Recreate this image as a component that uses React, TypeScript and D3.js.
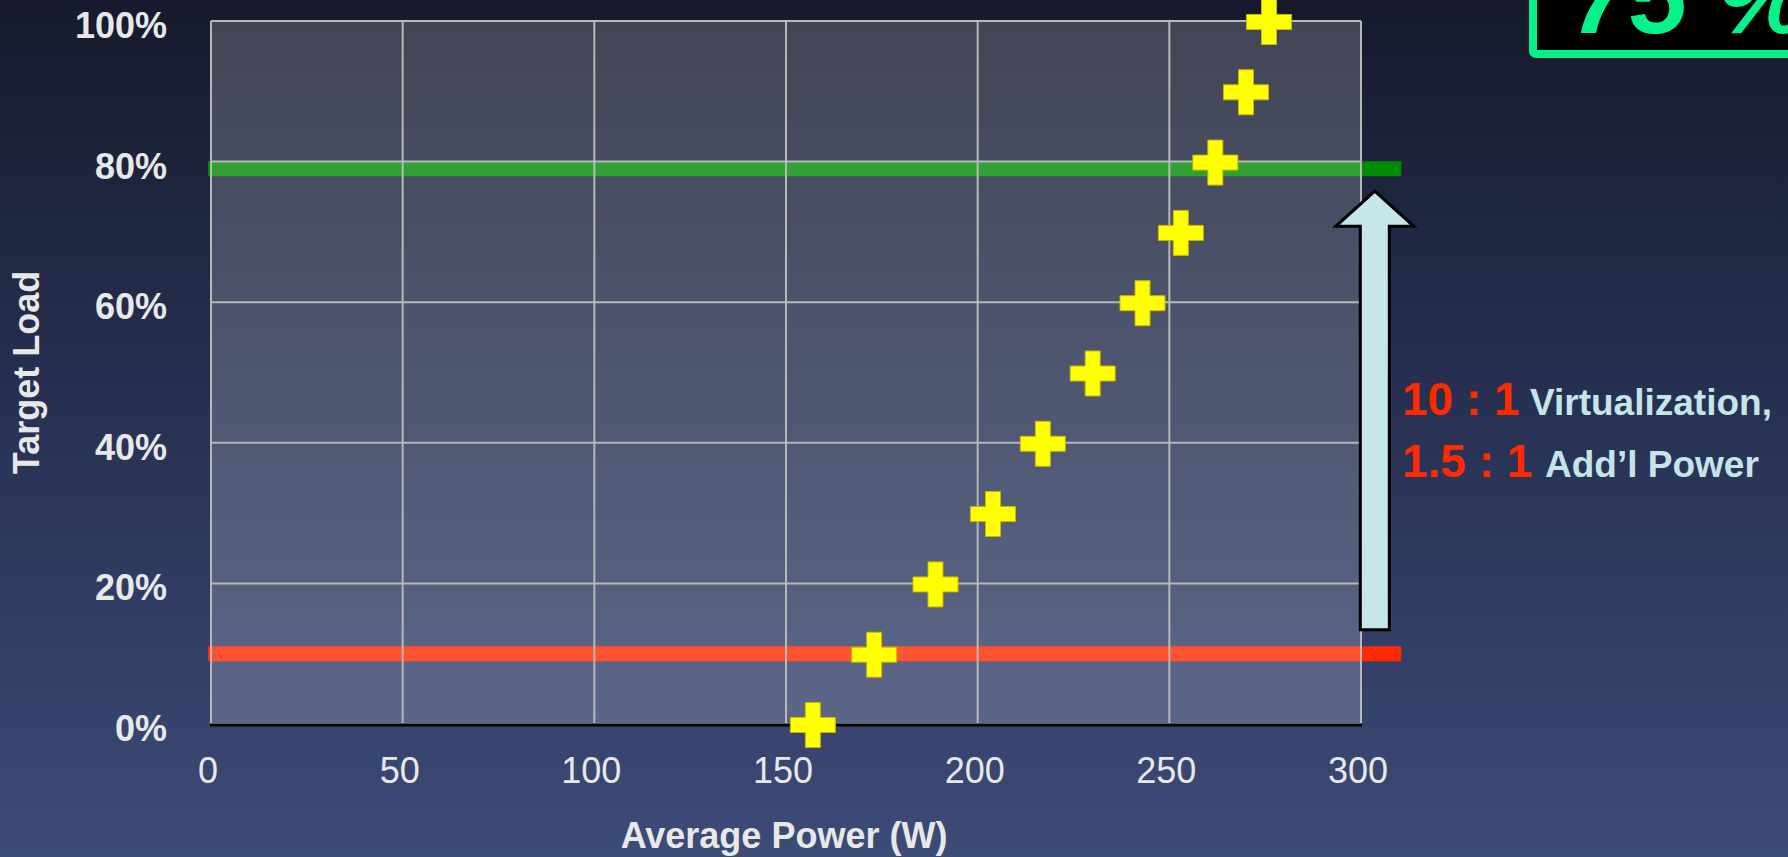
import React from "react";
import * as d3 from "d3";

const W = 1788;
const H = 857;

// data
const loadLevels = [0, 10, 20, 30, 40, 50, 60, 70, 80, 90, 100];
const avgPower = [157, 173, 189, 204, 217, 230, 243, 253, 262, 270, 276];
const xTicks = [0, 50, 100, 150, 200, 250, 300];
const yTicks = [0, 20, 40, 60, 80, 100];
const refLineValues = [10, 79];
const refLineColors = ["#ff2a00", "#008c00"];
const refLineExtent = [-0.8, 310.5];
const highlightText = "75 %";

const M = { left: 211, right: 1361, top: 21, bottom: 724 };
const FONT = "'Liberation Sans', Arial, Helvetica, sans-serif";

export default function App() {
  const x = d3.scaleLinear().domain([0, 300]).range([M.left, M.right]);
  const y = d3.scaleLinear().domain([0, 100]).range([M.bottom, M.top]);
  const cross = d3.symbol(d3.symbolCross, 1125)();

  const arrowX = x(303.6);
  const shaftW = 29;
  const headW = 78;
  const arrowBottom = y(13.4);
  const headBase = y(70.8);
  const tip = y(75.8);
  const arrowPts = [
    [arrowX - shaftW / 2, arrowBottom],
    [arrowX - shaftW / 2, headBase],
    [arrowX - headW / 2, headBase],
    [arrowX, tip],
    [arrowX + headW / 2, headBase],
    [arrowX + shaftW / 2, headBase],
    [arrowX + shaftW / 2, arrowBottom],
  ];

  return (
    <svg
      width={W}
      height={H}
      style={{ position: "absolute", left: 0, top: 0, display: "block" }}
      fontFamily={FONT}
    >
      <defs>
        <linearGradient id="bg" x1="0" y1="0" x2="0" y2="1">
          <stop offset="0" stopColor="#161a2c" />
          <stop offset="0.5" stopColor="#283254" />
          <stop offset="1" stopColor="#3d4b77" />
        </linearGradient>
      </defs>
      <rect x={0} y={0} width={W} height={H} fill="url(#bg)" />

      {/* reference lines (under plot overlay) */}
      {refLineValues.map((v, i) => (
        <line
          key={"ref" + i}
          x1={x(refLineExtent[0])}
          x2={x(refLineExtent[1])}
          y1={y(v)}
          y2={y(v)}
          stroke={refLineColors[i]}
          strokeWidth={15}
        />
      ))}

      {/* plot area overlay */}
      <rect
        x={M.left}
        y={M.top}
        width={M.right - M.left}
        height={M.bottom - M.top}
        fill="#ffffff"
        fillOpacity={0.19}
      />

      {/* grid */}
      {xTicks.map((t) => (
        <line
          key={"gx" + t}
          x1={x(t)}
          x2={x(t)}
          y1={M.top}
          y2={M.bottom}
          stroke="#b8b8b8"
          strokeWidth={2}
        />
      ))}
      {yTicks.map((t) => (
        <line
          key={"gy" + t}
          x1={M.left}
          x2={M.right}
          y1={y(t)}
          y2={y(t)}
          stroke="#b8b8b8"
          strokeWidth={2}
        />
      ))}
      <line
        x1={M.left - 1}
        x2={M.right + 1}
        y1={M.bottom + 1}
        y2={M.bottom + 1}
        stroke="#000"
        strokeWidth={3}
      />

      {/* markers */}
      {loadLevels.map((l, i) => (
        <path
          key={"m" + i}
          d={cross}
          transform={`translate(${x(avgPower[i])},${y(l) + 1})`}
          fill="#ffff00"
          stroke="#c9b800"
          strokeWidth={1}
        />
      ))}

      {/* y tick labels */}
      {yTicks.map((t) => (
        <text
          key={"yl" + t}
          x={167}
          y={y(t) + 17}
          textAnchor="end"
          fontSize={36}
          fontWeight="bold"
          fill="#e8e8e8"
        >
          {t + "%"}
        </text>
      ))}
      {/* x tick labels */}
      {xTicks.map((t) => (
        <text
          key={"xl" + t}
          x={x(t) - 3}
          y={783}
          textAnchor="middle"
          fontSize={36}
          fill="#e8e8e8"
        >
          {t}
        </text>
      ))}

      <text
        x={(M.left + M.right) / 2 - 2}
        y={848}
        textAnchor="middle"
        fontSize={36}
        fontWeight="bold"
        fill="#e8e8e8"
      >
        Average Power (W)
      </text>
      <text
        transform={`translate(39,${(M.top + M.bottom) / 2}) rotate(-90)`}
        textAnchor="middle"
        fontSize={36}
        fontWeight="bold"
        fill="#e8e8e8"
      >
        Target Load
      </text>

      {/* arrow */}
      <polygon
        points={arrowPts.map((p) => p.join(",")).join(" ")}
        fill="#c6e6ea"
        stroke="#000"
        strokeWidth={3}
        strokeLinejoin="miter"
      />

      {/* annotation */}
      <text x={1402} y={415} fontSize={46} fontWeight="bold" fill="#ff2a00">
        10 : 1
      </text>
      <text x={1530} y={415} fontSize={37} fontWeight="bold" fill="#c5e5e9">
        Virtualization,
      </text>
      <text x={1402} y={477} fontSize={46} fontWeight="bold" fill="#ff2a00">
        1.5 : 1
      </text>
      <text x={1545} y={477} fontSize={37} fontWeight="bold" fill="#c5e5e9">
        Add’l Power
      </text>

      {/* highlight box */}
      <rect
        x={1533}
        y={-80}
        width={320}
        height={134}
        rx={3}
        fill="#000"
        stroke="#05f28a"
        strokeWidth={8}
      />
      <text
        x={1572}
        y={33}
        fontSize={104}
        fontWeight="bold"
        fontStyle="italic"
        fill="#05f28a"
      >
        {highlightText}
      </text>
    </svg>
  );
}
